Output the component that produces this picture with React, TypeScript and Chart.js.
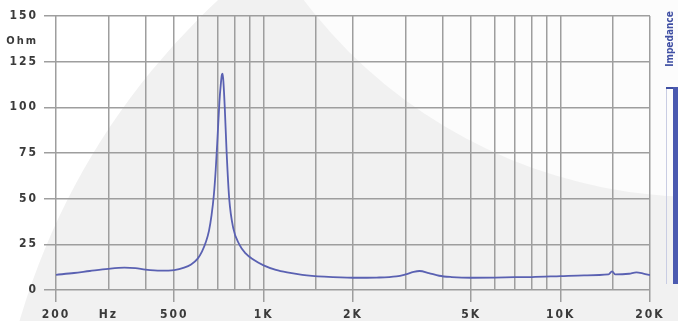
import React, { useEffect, useRef } from 'react';
import { Chart, registerables } from 'chart.js';

Chart.register(...registerables);

// ---- data ----
const freqs = [200, 230, 260, 300, 340, 370, 400, 450, 500, 540, 570, 600, 620, 640, 655, 668, 680, 690, 700, 710, 718, 724, 728, 733, 740, 751, 766, 790, 828, 870, 920, 1000, 1100, 1200, 1350, 1600, 2000, 2400, 2800, 3000, 3200, 3350, 3600, 3900, 4300, 5000, 6000, 7000, 8000, 10000, 12000, 14500, 14900, 15300, 17000, 18000, 19000, 20000];
const ohms = [8.3, 9.3, 10.4, 11.6, 12.2, 12.0, 11.2, 10.6, 10.9, 12.2, 14, 17.2, 21, 26.5, 32.5, 41, 52, 66, 84, 103, 113, 118, 118.5, 113, 100, 75, 50, 34, 25, 20, 16.8, 13.5, 11, 9.6, 8.3, 7.3, 6.7, 6.8, 7.4, 8.5, 9.9, 10.4, 9.3, 7.8, 7.1, 6.7, 6.8, 7.0, 7.1, 7.6, 8.0, 8.5, 10.2, 8.5, 8.9, 9.6, 9.0, 8.2];

const xTickValues = [200, 300, 400, 500, 600, 700, 800, 900, 1000, 1500, 2000, 3000, 4000, 5000, 6000, 7000, 8000, 9000, 10000, 15000, 20000];
const xTickLabels: Record<number, string> = { 200: '200', 300: 'Hz', 500: '500', 1000: '1K', 2000: '2K', 5000: '5K', 10000: '10K', 20000: '20K' };
const xTickMarked = [200, 500, 1000, 2000, 5000, 10000, 20000];
const yTickValues = [0, 25, 50, 75, 100, 125, 150];
const yUnitLabel = 'Ohm';
const yUnitPos = 136;
const seriesName = 'Impedance';

const GRID = '#9e9e9e';
const TEXT = '#3a3a3a';
const LINE = '#5a61b2';
const BLUE = '#3f4fa3';
const FONT_FAMILY = '"DejaVu Sans Condensed", "DejaVu Sans", sans-serif';

const bgPlugin = {
  id: 'bgPlugin',
  beforeDraw(chart: any) {
    const ctx = chart.ctx as CanvasRenderingContext2D;
    ctx.save();
    ctx.fillStyle = '#ffffff';
    ctx.fillRect(0, 0, chart.width, chart.height);
    ctx.fillStyle = '#f1f1f1';
    ctx.beginPath();
    ctx.arc(700, 520, 709, 0, Math.PI * 2);
    ctx.fill();
    ctx.fillStyle = '#fcfcfc';
    ctx.beginPath();
    ctx.arc(700, -300, 497, 0, Math.PI * 2);
    ctx.fill();
    ctx.restore();
    (ctx as any).letterSpacing = '2px';
  },
  afterDraw(chart: any) {
    const ctx = chart.ctx as CanvasRenderingContext2D;
    ctx.save();
    (ctx as any).letterSpacing = '0px';
    ctx.translate(670, 39);
    ctx.rotate(-Math.PI / 2);
    ctx.fillStyle = BLUE;
    ctx.font = 'bold 10px ' + FONT_FAMILY;
    ctx.textAlign = 'center';
    ctx.textBaseline = 'middle';
    ctx.fillText(seriesName, 0, 0);
    ctx.restore();
    ctx.save();
    ctx.fillStyle = '#c9cde3';
    ctx.fillRect(666, 87, 1, 197);
    ctx.fillStyle = BLUE;
    ctx.fillRect(666, 87, 12, 2);
    ctx.fillStyle = '#4b5ab0';
    ctx.fillRect(673, 87, 5, 197);
    ctx.restore();
  },
};

export default function App() {
  const ref = useRef<HTMLCanvasElement | null>(null);
  useEffect(() => {
    if (!ref.current) return;
    const chart = new Chart(ref.current, {
      type: 'line',
      data: {
        datasets: [
          {
            label: seriesName,
            data: freqs.map((f, i) => ({ x: f, y: ohms[i] })),
            borderColor: LINE,
            borderWidth: 1.8,
            pointRadius: 0,
            cubicInterpolationMode: 'monotone',
            fill: false,
          },
        ],
      },
      options: {
        responsive: false,
        animation: false,
        layout: { padding: { top: 16, right: 28, left: 0, bottom: 0 } },
        plugins: { legend: { display: false }, tooltip: { enabled: false } },
        scales: {
          x: {
            type: 'logarithmic',
            min: 200,
            max: 20000,
            afterBuildTicks: (scale: any) => {
              scale.ticks = xTickValues.map((v) => ({ value: v }));
            },
            afterFit: (scale: any) => {
              scale.height = 31;
            },
            ticks: {
              autoSkip: false,
              maxRotation: 0,
              minRotation: 0,
              padding: 6,
              color: TEXT,
              font: { family: FONT_FAMILY, size: 12, weight: 'bold' },
              callback: (v: any) => xTickLabels[Number(v)] ?? '',
            },
            grid: {
              color: GRID,
              lineWidth: 1.5,
              tickLength: 12,
              tickColor: (c: any) => (c.tick && xTickMarked.includes(c.tick.value) ? GRID : 'rgba(0,0,0,0)'),
            },
            border: { display: false },
          },
          y: {
            type: 'linear',
            min: 0,
            max: 150,
            afterBuildTicks: (scale: any) => {
              const vals = [...yTickValues, yUnitPos].sort((a, b) => a - b);
              scale.ticks = vals.map((v) => ({ value: v }));
            },
            afterFit: (scale: any) => {
              scale.width = 56;
            },
            ticks: {
              autoSkip: false,
              padding: 6,
              color: TEXT,
              font: (c: any) =>
                c.tick && c.tick.value === yUnitPos
                  ? { family: FONT_FAMILY, size: 11, weight: 'bold' }
                  : { family: FONT_FAMILY, size: 12, weight: 'bold' },
              callback: (v: any) => (Number(v) === yUnitPos ? yUnitLabel : String(v)),
            },
            grid: {
              color: (c: any) => (c.tick && c.tick.value === yUnitPos ? 'rgba(0,0,0,0)' : GRID),
              lineWidth: 1.5,
              tickLength: 12,
              tickColor: (c: any) => (c.tick && c.tick.value === yUnitPos ? 'rgba(0,0,0,0)' : GRID),
            },
            border: { display: false },
          },
        },
      } as any,
      plugins: [bgPlugin],
    });
    return () => chart.destroy();
  }, []);
  return (
    <div style={{ position: 'absolute', left: 0, top: 0, width: 678, height: 321 }}>
      <canvas ref={ref} width={678} height={321} />
    </div>
  );
}
